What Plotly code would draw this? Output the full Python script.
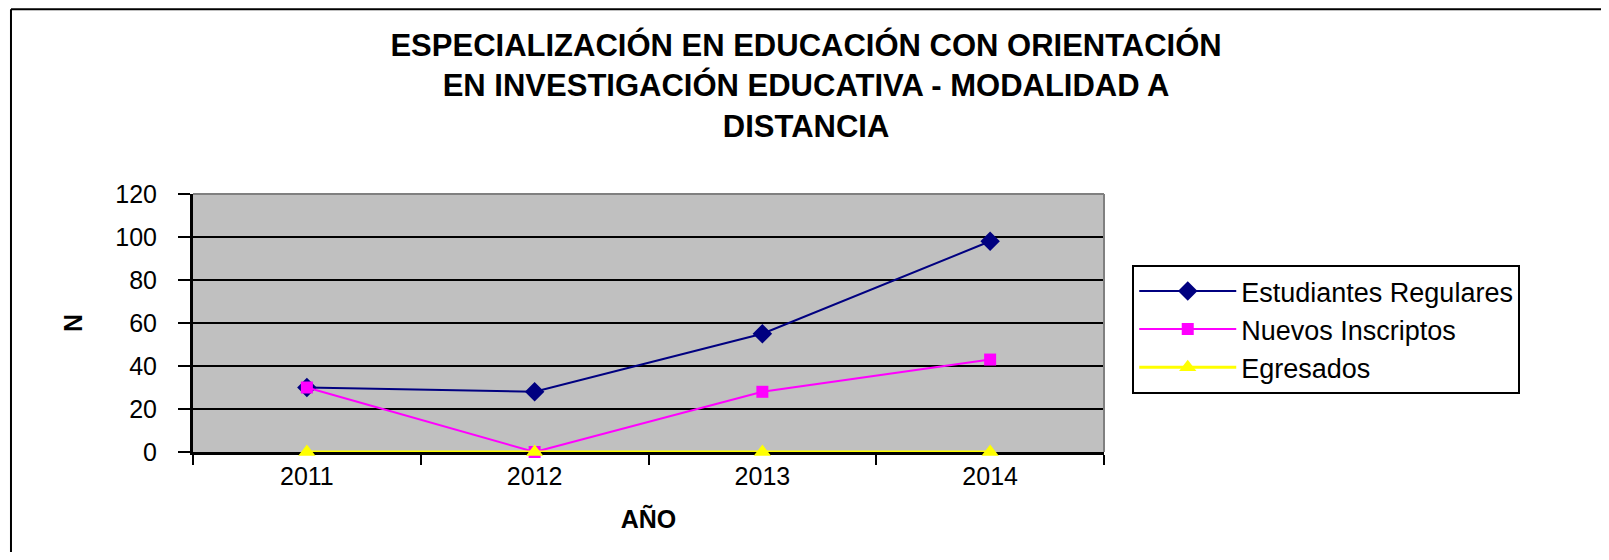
import plotly.graph_objects as go

years = ['2011', '2012', '2013', '2014']
estudiantes_regulares = [30, 28, 55, 98]
nuevos_inscriptos = [30, 0, 28, 43]
egresados = [0, 0, 0, 0]

y_ticks = [0, 20, 40, 60, 80, 100, 120]

font_family = 'Liberation Sans, Arial, sans-serif'

fig = go.Figure()
fig.add_trace(go.Scatter(x=years, y=estudiantes_regulares, name='Estudiantes Regulares',
                         mode='lines+markers', cliponaxis=False,
                         line=dict(color='#000080', width=2),
                         marker=dict(symbol='diamond', size=15, color='#000080')))
fig.add_trace(go.Scatter(x=years, y=nuevos_inscriptos, name='Nuevos Inscriptos',
                         mode='lines+markers', cliponaxis=False,
                         line=dict(color='#FF00FF', width=2),
                         marker=dict(symbol='square', size=12, color='#FF00FF')))
fig.add_trace(go.Scatter(x=years, y=egresados, name='Egresados',
                         mode='lines+markers', cliponaxis=False,
                         line=dict(color='#FFFF00', width=3),
                         marker=dict(symbol='triangle-up', size=15, color='#FFFF00')))

# the page body has an 8px margin all round, so keep the figure inside the window
fig.update_layout(
    width=1593, height=544,
    margin=dict(l=185, r=497, t=186, b=100),
    paper_bgcolor='white',
    plot_bgcolor='#C0C0C0',
    font=dict(family=font_family, color='black'),
    title=dict(
        text='ESPECIALIZACIÓN EN EDUCACIÓN CON ORIENTACIÓN<br>'
             'EN INVESTIGACIÓN EDUCATIVA - MODALIDAD A<br>DISTANCIA',
        x=0.501, xanchor='center', yref='container', y=1 - 48 / 544, yanchor='top',
        font=dict(size=31, family=font_family, weight='bold', color='black'),
    ),
    legend=dict(
        x=1.031, xanchor='left', y=0.725, yanchor='top',
        bgcolor='white', bordercolor='black', borderwidth=2,
        font=dict(size=27, family=font_family), tracegroupgap=0,
        itemwidth=97,
    ),
    showlegend=True,
)

fig.update_xaxes(
    type='category', tickson='boundaries', range=[-0.5, 3.5],
    showgrid=False, showline=True, linecolor='black', linewidth=3,
    ticks='outside', ticklen=10, tickwidth=2, tickcolor='black',
    tickfont=dict(size=25), layer='below traces',
    title=dict(text='AÑO', font=dict(size=25, weight='bold'), standoff=22),
)
fig.update_yaxes(
    range=[0, 120], tickvals=y_ticks, zeroline=False,
    showgrid=True, gridcolor='black', gridwidth=2,
    showline=True, linecolor='black', linewidth=3,
    ticks='outside', ticklen=12, tickwidth=2, tickcolor='black',
    tickfont=dict(size=25), ticklabelstandoff=16, layer='below traces',
    title=dict(text='N', font=dict(size=25, weight='bold'), standoff=26),
)

# gray frame on top and right of the plot area
fig.add_shape(type='line', xref='paper', yref='paper', x0=0, x1=1, y0=1, y1=1,
              line=dict(color='#808080', width=2))
fig.add_shape(type='line', xref='paper', yref='paper', x0=1, x1=1, y0=0, y1=1,
              line=dict(color='#808080', width=2))
# outer chart border (only left and top edges fall inside the picture)
fig.add_shape(type='line', xref='paper', yref='paper',
              x0=-0.1998, x1=-0.1998, y0=-0.5, y1=1.716,
              line=dict(color='black', width=2))
fig.add_shape(type='line', xref='paper', yref='paper',
              x0=-0.1998, x1=1.7, y0=1.716, y1=1.716,
              line=dict(color='black', width=2))

fig.write_html('out.html')
